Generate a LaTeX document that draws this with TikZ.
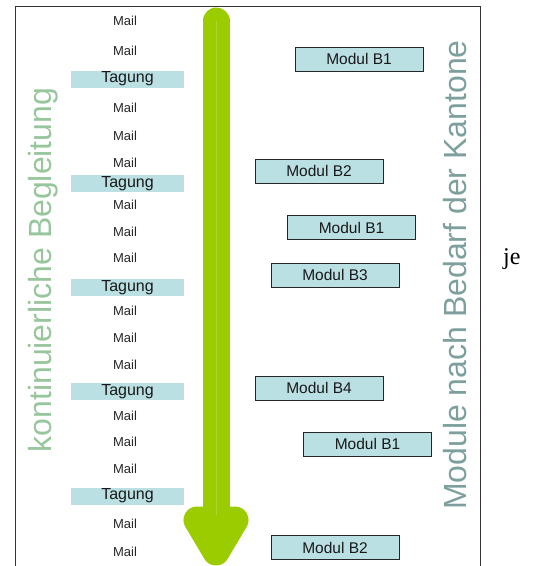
\documentclass[tikz,border=0pt]{standalone}
\usepackage{fontspec}
\newfontfamily\arialfont{Liberation Sans}
\newfontfamily\timesfont{Liberation Serif}
\usepackage{tikz}
\usetikzlibrary{positioning}
\definecolor{myboxblue}{RGB}{187, 224, 228}
\definecolor{myarrowgreen}{RGB}{155, 204, 0}
\definecolor{mystripegreen}{RGB}{172, 212, 50}
\definecolor{myleftgreen}{RGB}{152, 198, 156}
\definecolor{myrightgrey}{RGB}{125, 160, 158}

\begin{document}
\begin{tikzpicture}[x = 1pt, y = -1pt,
  mail/.style={font = \arialfont\fontsize{13}{15}\selectfont, text = black!85, inner sep = 0},
  tagung/.style={fill = myboxblue, minimum width = 113pt, minimum height = 17pt, inner sep = 0, font = \arialfont\fontsize{16}{18}\selectfont, text = black!90},
  modul/.style={draw = black!85, line width = 1pt, fill = myboxblue, minimum width = 128pt, minimum height = 24pt, inner sep = 0, font = \arialfont\fontsize{15.5}{17}\selectfont, text = black!90},
  sidelabel/.style={rotate = 90, anchor = base, inner sep = 0, font = \arialfont\fontsize{32}{36}\selectfont}]
  \useasboundingbox (0,0) rectangle (537,566);

  % frame
  \draw [black!80, line width = 1pt] (15,566) -- (15,6) -- (480,6) -- (480,566);

  % arrow
  \coordinate (arrow-top) at (216,21);
  \coordinate (arrow-end) at (216,530);
  \coordinate (stripe-end) at (216,515);
  \coordinate (head-left) at (197,520);
  \coordinate (head-right) at (235,520);
  \coordinate (head-tip) at (216,552);
  \draw [myarrowgreen, line width = 27pt, line cap = round] (arrow-top) -- (arrow-end);
  \draw [myarrowgreen, fill = myarrowgreen, line width = 27pt, line join = round] (head-left) -- (head-right) -- (head-tip) -- cycle;
  \draw [mystripegreen, line width = 0.5pt] (arrow-top) -- (stripe-end);

  % side labels
  \node [sidelabel, text = myleftgreen] (begleitung) at (51,270) {kontinuierliche Begleitung};
  \node [sidelabel, text = myrightgrey] (kantone) at (466,275) {Module nach Bedarf der Kantone};

  % mails and meetings
  \node [mail] (mail-1) at (125,20.5) {Mail};
  \node [mail] (mail-2) at (125,50.5) {Mail};
  \node [tagung] (tagung-1) at (127.5,79) {Tagung};
  \node [mail] (mail-3) at (125,108) {Mail};
  \node [mail] (mail-4) at (125,135.5) {Mail};
  \node [mail] (mail-5) at (125,162.5) {Mail};
  \node [tagung] (tagung-2) at (127.5,183.5) {Tagung};
  \node [mail] (mail-6) at (125,205) {Mail};
  \node [mail] (mail-7) at (125,231.5) {Mail};
  \node [mail] (mail-8) at (125,258) {Mail};
  \node [tagung] (tagung-3) at (127.5,287.5) {Tagung};
  \node [mail] (mail-9) at (125,311) {Mail};
  \node [mail] (mail-10) at (125,338) {Mail};
  \node [mail] (mail-11) at (125,365) {Mail};
  \node [tagung] (tagung-4) at (127.5,391.5) {Tagung};
  \node [mail] (mail-12) at (125,415.5) {Mail};
  \node [mail] (mail-13) at (125,442) {Mail};
  \node [mail] (mail-14) at (125,469) {Mail};
  \node [tagung] (tagung-5) at (127.5,496) {Tagung};
  \node [mail] (mail-15) at (125,524) {Mail};
  \node [mail] (mail-16) at (125,551.5) {Mail};

  % modules
  \node [modul] (b1-a) at (359,59) {Modul B1};
  \node [modul] (b2-a) at (319,171) {Modul B2};
  \node [modul] (b1-b) at (351.5,227.5) {Modul B1};
  \node [modul] (b3) at (335,275) {Modul B3};
  \node [modul] (b4) at (319,388) {Modul B4};
  \node [modul] (b1-c) at (367.5,444) {Modul B1};
  \node [modul] (b2-b) at (335,547.5) {Modul B2};

  % margin note
  \node [anchor = base west, inner sep = 0, font = \timesfont\fontsize{24}{26}\selectfont] (je) at (503,264) {je};
\end{tikzpicture}
\end{document}
